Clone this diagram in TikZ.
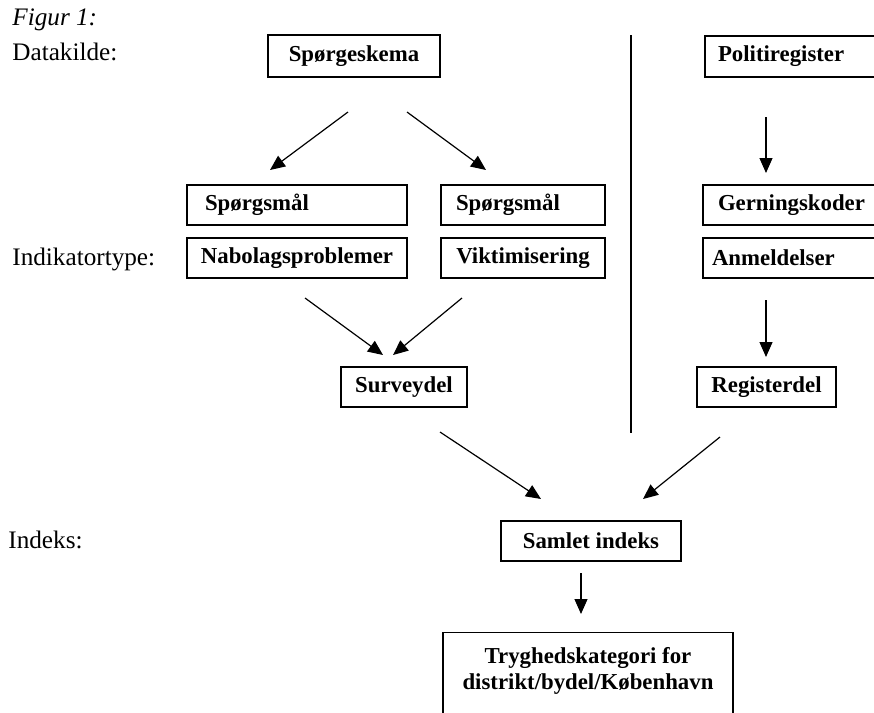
\documentclass[tikz,border=0pt]{standalone}
\usepackage{fontspec}
\setmainfont{Liberation Serif}
\usetikzlibrary{arrows.meta}
\tikzset{
  box/.style={draw, line width=0.6pt, font=\bfseries\fontsize{11.4}{13}\selectfont,
    minimum height=20pt, inner ysep=0pt, inner xsep=0pt, align=center},
  lbl/.style={font=\fontsize{12.6}{15}\selectfont, anchor=base west, inner sep=0pt},
  arr/.style={line width=0.6pt, -{Triangle[length=7.5pt,width=6.5pt]}},
  divider/.style={line width=0.6pt},
}
\begin{document}
\begin{tikzpicture}[x=0.5pt,y=-0.5pt]
\useasboundingbox (0,0) rectangle (874,713);
\clip (0,0) rectangle (874,713);
% labels
\node[lbl] (fig) at (12,25) {\itshape Figur 1:};
\node[lbl] (dk) at (12,60) {Datakilde:};
\node[lbl] (it) at (12,265) {Indikatortype:};
\node[lbl] (ix) at (8,548) {Indeks:};
% boxes
\node[box, minimum width=86pt, minimum height=21pt] (sk) at (354,56) {Spørgeskema};
\node[box, text width=79.5pt, inner xsep=6.5pt, align=left, minimum height=20.5pt] (pr) at (797.5,56.5) {Politiregister};
\node[box, text width=92pt, inner xsep=9pt, align=left] (q1) at (297,205) {Spørgsmål};
\node[box, text width=67pt, inner xsep=7.5pt, align=left] (q2) at (523,205) {Spørgsmål};
\node[box, text width=78.5pt, inner xsep=7.5pt, align=left] (gk) at (796.5,205) {Gerningskoder};
\node[box, minimum width=110pt] (nb) at (297,258) {Nabolagsproblemer};
\node[box, minimum width=82pt] (vk) at (523,258) {Viktimisering};
\node[box, text width=84.5pt, inner xsep=4.5pt, align=left] (an) at (796.5,258) {Anmeldelser};
\node[box, minimum width=63pt] (sv) at (404,387) {Surveydel};
\node[box, minimum width=69.5pt] (rg) at (766.5,387) {Registerdel};
\node[box, minimum width=90pt] (si) at (591,541) {Samlet indeks};
\node[draw, line width=0.6pt, minimum width=145pt, minimum height=60pt, anchor=north, inner sep=0pt] (tk) at (588,632) {};
\node[font=\bfseries\fontsize{11.4}{13}\selectfont, align=center, anchor=north, inner sep=0pt] (tkt) at (588,647) {Tryghedskategori for\\distrikt/bydel/København};
% divider
\coordinate (d1) at (631,35);
\coordinate (d2) at (631,433);
\draw[divider] (d1) -- (d2);
% arrow end points
\coordinate (a1s) at (348,112); \coordinate (a1e) at (270,170);
\coordinate (a2s) at (407,112); \coordinate (a2e) at (486,170);
\coordinate (a3s) at (766,117); \coordinate (a3e) at (766,173);
\coordinate (a4s) at (305,298); \coordinate (a4e) at (383,355);
\coordinate (a5s) at (462,298); \coordinate (a5e) at (393,355);
\coordinate (a6s) at (766,300); \coordinate (a6e) at (766,357);
\coordinate (a7s) at (440,432); \coordinate (a7e) at (541,499);
\coordinate (a8s) at (720,437); \coordinate (a8e) at (643,499);
\coordinate (a9s) at (581,573); \coordinate (a9e) at (581,614);
\draw[arr] (a1s) -- (a1e);
\draw[arr] (a2s) -- (a2e);
\draw[arr] (a3s) -- (a3e);
\draw[arr] (a4s) -- (a4e);
\draw[arr] (a5s) -- (a5e);
\draw[arr] (a6s) -- (a6e);
\draw[arr] (a7s) -- (a7e);
\draw[arr] (a8s) -- (a8e);
\draw[arr] (a9s) -- (a9e);
\end{tikzpicture}
\end{document}
